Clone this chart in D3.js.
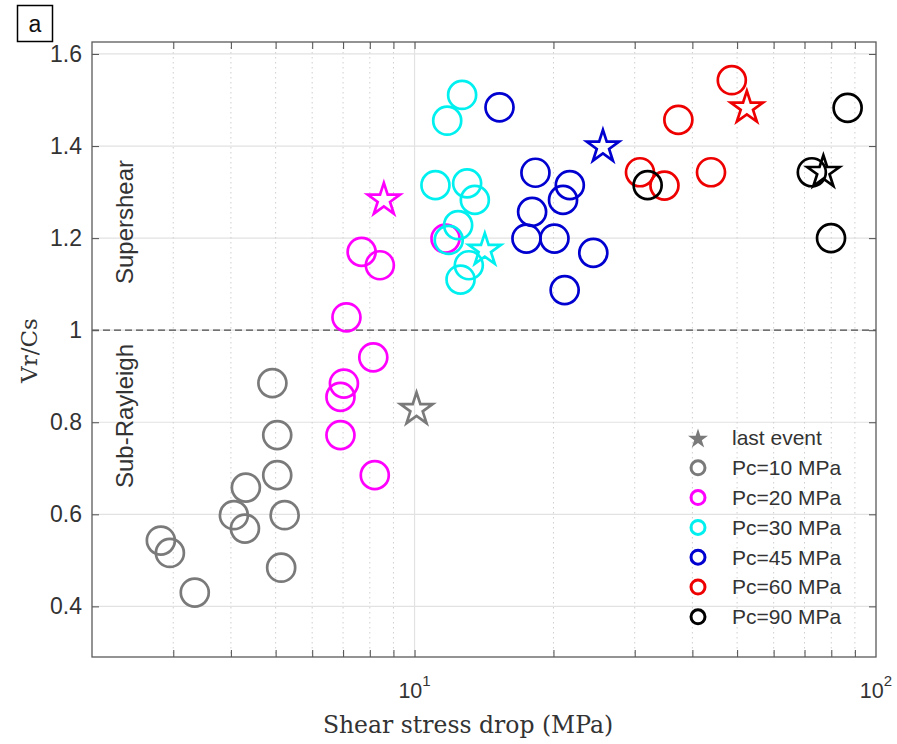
<!DOCTYPE html>
<html>
<head>
<meta charset="utf-8">
<script src="https://cdn.jsdelivr.net/npm/d3@7/dist/d3.min.js"></script>
<style>
  html, body { margin: 0; padding: 0; background: #fff; }
  svg { display: block; }
</style>
</head>
<body>
<svg id="chart" width="897" height="744"></svg>
<script>
// Rupture velocity ratio vs shear stress drop, grouped by confining pressure
const pc10X = [4.92, 5.04, 5.04, 4.31, 4.06, 4.29, 5.23, 5.14, 2.82, 2.95, 3.34];
const pc10Y = [0.885, 0.772, 0.685, 0.658, 0.598, 0.569, 0.598, 0.484, 0.543, 0.516, 0.430];
const pc20X = [7.68, 8.41, 7.12, 8.14, 7.03, 6.91, 6.91, 8.20, 11.67];
const pc20Y = [1.170, 1.141, 1.028, 0.941, 0.884, 0.855, 0.772, 0.685, 1.199];
const pc30X = [12.68, 11.77, 11.1, 13.0, 13.51, 12.43, 11.86, 13.11, 12.58];
const pc30Y = [1.511, 1.455, 1.315, 1.319, 1.283, 1.228, 1.196, 1.141, 1.110];
const pc45X = [15.28, 18.28, 21.7, 20.98, 17.98, 17.48, 20.1, 24.4, 21.15];
const pc45Y = [1.484, 1.342, 1.315, 1.283, 1.257, 1.199, 1.199, 1.168, 1.087];
const pc60X = [48.7, 37.3, 30.8, 34.8, 43.9];
const pc60Y = [1.543, 1.457, 1.343, 1.314, 1.343];
const pc90X = [32.0, 86.8, 72.6, 79.9];
const pc90Y = [1.315, 1.483, 1.343, 1.200];

// last event of each pressure series: [x, y]
const lastEvents = [[10.1, 0.828], [8.58, 1.283], [14.2, 1.174], [25.6, 1.398], [52.5, 1.483], [76.9, 1.343]];

const seriesNames = ["Pc=10 MPa", "Pc=20 MPa", "Pc=30 MPa", "Pc=45 MPa", "Pc=60 MPa", "Pc=90 MPa"];
const seriesColors = ["#7a7a7a", "#ff00ff", "#00f0f0", "#0000d0", "#ee0000", "#000000"];
const seriesX = [pc10X, pc20X, pc30X, pc45X, pc60X, pc90X];
const seriesY = [pc10Y, pc20Y, pc30Y, pc45Y, pc60Y, pc90Y];

const yTicks = [0.4, 0.6, 0.8, 1, 1.2, 1.4, 1.6];
const yTickLabels = ["0.4", "0.6", "0.8", "1", "1.2", "1.4", "1.6"];
const xMinorTicks = [3, 4, 5, 6, 7, 8, 9, 20, 30, 40, 50, 60, 70, 80, 90];
const xMajorTicks = [10, 100];
const xMajorExp = ["1", "2"];

const svg = d3.select("#chart");
const L = 92, R = 876, T = 42, B = 657;

const x = d3.scaleLog().domain([2, 100]).range([L, R]);
const y = d3.scaleLinear().domain([0.29, 1.626]).range([B, T]);

const sans = "'Liberation Sans', Arial, Helvetica, sans-serif";
const serif = "'DejaVu Serif', 'Liberation Serif', serif";

// grid
const grid = svg.append("g");
grid.selectAll("line.hg").data(yTicks).join("line")
  .attr("x1", L).attr("x2", R)
  .attr("y1", d => y(d)).attr("y2", d => y(d))
  .attr("stroke", "#e2e2e2").attr("stroke-width", 1.2);
grid.selectAll("line.vm").data(xMinorTicks).join("line")
  .attr("x1", d => x(d)).attr("x2", d => x(d))
  .attr("y1", T).attr("y2", B)
  .attr("stroke", "#cfcfcf").attr("stroke-width", 1)
  .attr("stroke-dasharray", "1.5,3.5");
grid.selectAll("line.vM").data([10]).join("line")
  .attr("x1", d => x(d)).attr("x2", d => x(d))
  .attr("y1", T).attr("y2", B)
  .attr("stroke", "#e2e2e2").attr("stroke-width", 1.2);

// boundary between sub-Rayleigh and supershear
svg.append("line")
  .attr("x1", L).attr("x2", R).attr("y1", y(1)).attr("y2", y(1))
  .attr("stroke", "#4a4a4a").attr("stroke-width", 1.2)
  .attr("stroke-dasharray", "7,4");

// axes with inward ticks
const axisColor = "#5a5a5a";
function styleAxis(g) {
  g.select(".domain").remove();
  g.selectAll(".tick line").attr("stroke", axisColor).attr("stroke-width", 1.1);
}
svg.append("g").attr("transform", `translate(${L},0)`)
  .call(d3.axisLeft(y).tickValues(yTicks).tickFormat((d, i) => yTickLabels[i])
    .tickSizeInner(-7).tickSizeOuter(0).tickPadding(10))
  .call(styleAxis)
  .call(g => g.selectAll(".tick text").attr("font-family", sans)
    .attr("font-size", 23).attr("fill", "#333"));
svg.append("g").attr("transform", `translate(${R},0)`)
  .call(d3.axisRight(y).tickValues(yTicks).tickFormat("").tickSizeInner(-7).tickSizeOuter(0))
  .call(styleAxis);
svg.append("g").attr("transform", `translate(0,${B})`)
  .call(d3.axisBottom(x).tickValues(xMinorTicks.concat([10])).tickFormat("").tickSizeInner(-7).tickSizeOuter(0))
  .call(styleAxis);
svg.append("g").attr("transform", `translate(0,${T})`)
  .call(d3.axisTop(x).tickValues(xMinorTicks.concat([10])).tickFormat("").tickSizeInner(-7).tickSizeOuter(0))
  .call(styleAxis);

// frame
svg.append("rect").attr("x", L).attr("y", T).attr("width", R - L).attr("height", B - T)
  .attr("fill", "none").attr("stroke", axisColor).attr("stroke-width", 1.3);

// decade labels 10^n
xMajorTicks.forEach((v, i) => {
  const t = svg.append("text")
    .attr("x", x(v)).attr("y", 698)
    .attr("text-anchor", "middle")
    .attr("font-family", sans).attr("font-size", 21.5).attr("fill", "#333");
  t.append("tspan").text("10");
  t.append("tspan").attr("dy", -12).attr("font-size", 15).text(xMajorExp[i]);
});

// axis titles
svg.append("text").attr("x", 468).attr("y", 733)
  .attr("text-anchor", "middle").attr("font-family", serif)
  .attr("font-size", 23.5).attr("fill", "#333")
  .text("Shear stress drop (MPa)");
svg.append("text")
  .attr("transform", `translate(37,${(T + B) / 2 + 1}) rotate(-90)`)
  .attr("text-anchor", "middle").attr("font-family", serif)
  .attr("font-size", 23).attr("fill", "#333")
  .text("Vr/Cs");

// regime labels
svg.append("text")
  .attr("transform", "translate(133,222) rotate(-90)")
  .attr("text-anchor", "middle").attr("font-family", sans)
  .attr("font-size", 24).attr("fill", "#333").text("Supershear");
svg.append("text")
  .attr("transform", "translate(133,416) rotate(-90)")
  .attr("text-anchor", "middle").attr("font-family", sans)
  .attr("font-size", 24).attr("fill", "#333").text("Sub-Rayleigh");

// data
const star = d3.symbol(d3.symbolStar, 17 * 17 / 0.8908130915292852);
const marks = svg.append("g");
seriesX.forEach((xs, s) => {
  const pts = xs.map((v, i) => [v, seriesY[s][i]]);
  marks.append("g").selectAll("circle").data(pts).join("circle")
    .attr("cx", d => x(d[0])).attr("cy", d => y(d[1]))
    .attr("r", 14).attr("fill", "none")
    .attr("stroke", seriesColors[s]).attr("stroke-width", 2.7);
});
marks.append("g").selectAll("path").data(lastEvents).join("path")
  .attr("d", star)
  .attr("transform", d => `translate(${x(d[0])},${y(d[1])})`)
  .attr("fill", "none")
  .attr("stroke", (d, i) => seriesColors[i]).attr("stroke-width", 2.7)
  .attr("stroke-linejoin", "miter");

// legend
const legX = 698, legTextX = 732, legY0 = 438, legStep = 29.8;
const leg = svg.append("g");
leg.append("path")
  .attr("d", d3.symbol(d3.symbolStar, 10.5 * 10.5 / 0.8908130915292852)())
  .attr("transform", `translate(${legX},${legY0 + 1})`)
  .attr("fill", "#7a7a7a");
leg.append("text").attr("x", legTextX).attr("y", legY0)
  .attr("dy", "0.35em").attr("font-family", sans).attr("font-size", 21)
  .attr("fill", "#333").text("last event");
seriesNames.forEach((name, i) => {
  const yy = legY0 + legStep * (i + 1);
  leg.append("circle").attr("cx", legX).attr("cy", yy).attr("r", 7)
    .attr("fill", "none").attr("stroke", seriesColors[i]).attr("stroke-width", 3);
  leg.append("text").attr("x", legTextX).attr("y", yy)
    .attr("dy", "0.35em").attr("font-family", sans).attr("font-size", 21)
    .attr("fill", "#333").text(name);
});

// panel label
svg.append("rect").attr("x", 17.5).attr("y", 5.5).attr("width", 35).attr("height", 36)
  .attr("fill", "#fff").attr("stroke", "#000").attr("stroke-width", 1.5);
svg.append("text").attr("x", 35).attr("y", 24).attr("dy", "0.35em")
  .attr("text-anchor", "middle").attr("font-family", sans)
  .attr("font-size", 23).attr("fill", "#111").text("a");
</script>
</body>
</html>
